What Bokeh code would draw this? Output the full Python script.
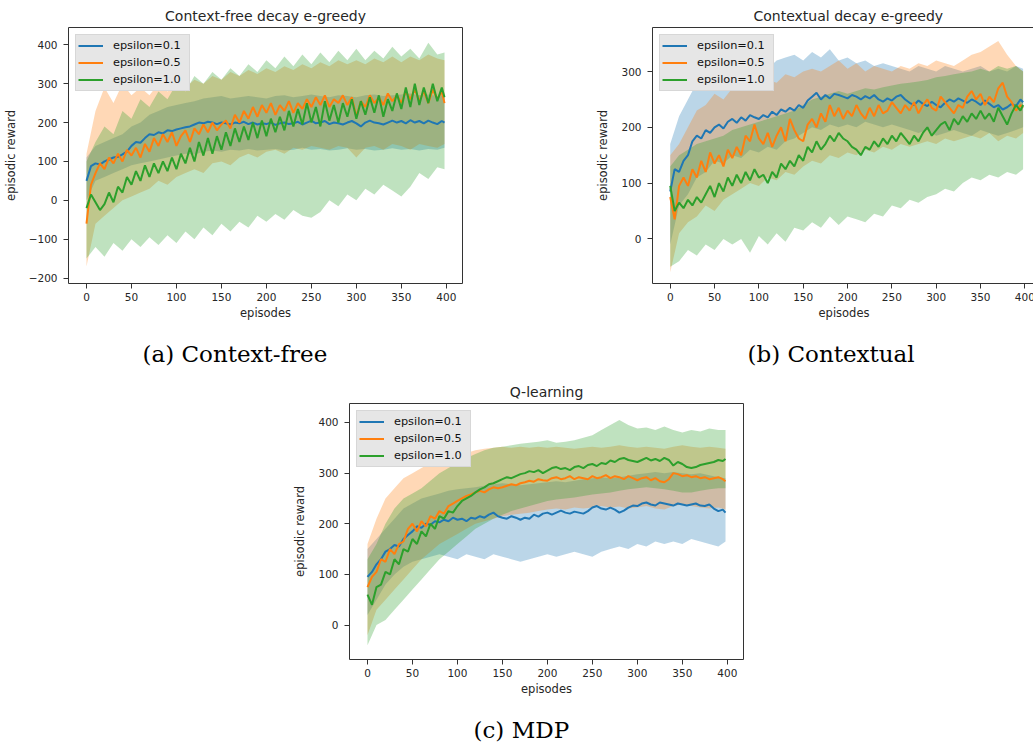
from bokeh.plotting import figure
from bokeh.models import Range1d, FixedTicker, Legend, LegendItem, Title, Spacer
from bokeh.layouts import row, column
from bokeh.embed import file_html
from bokeh.resources import INLINE

# ---------------- data ----------------
EPISODES = list(range(0, 400, 5)) + [398]
BAND_EPISODES = list(range(0, 400, 10)) + [398]
LABELS = ["epsilon=0.1", "epsilon=0.5", "epsilon=1.0"]
X_TICKS = [0, 50, 100, 150, 200, 250, 300, 350, 400]

# (a) Context-free decay e-greedy
A_BLUE = [50, 88, 95, 92, 100, 105, 110, 112, 118, 125,
          140, 150, 148, 160, 170, 168, 175, 172, 180, 178,
          182, 185, 188, 190, 195, 200, 198, 202, 200, 196,
          200, 198, 195, 200, 198, 202, 196, 200, 195, 198,
          196, 200, 194, 198, 200, 196, 198, 202, 195, 200,
          205, 198, 200, 204, 196, 200, 198, 195, 200, 204,
          198, 190, 200, 205, 200, 198, 195, 200, 205, 200,
          204, 198, 206, 200, 204, 198, 205, 200, 196, 204,
          200]
A_ORANGE = [-60, 40, 70, 95, 80, 110, 95, 120, 100, 130,
            115, 135, 110, 145, 125, 160, 140, 170, 150, 175,
            140, 165, 180, 150, 185, 170, 195, 175, 200, 180,
            195, 205, 185, 220, 200, 230, 210, 240, 215, 245,
            225, 250, 220, 245, 230, 255, 225, 250, 235, 260,
            240, 265, 245, 270, 240, 260, 250, 270, 245, 265,
            215, 255, 240, 270, 250, 265, 245, 275, 255, 270,
            250, 280, 260, 285, 255, 280, 250, 285, 260, 280,
            250]
A_GREEN = [-20, 15, -5, -25, -10, 20, -5, 35, 20, 60,
           40, 75, 50, 90, 60, 95, 70, 100, 75, 110,
           80, 120, 95, 135, 100, 150, 115, 160, 120, 165,
           130, 175, 140, 185, 150, 190, 155, 200, 160, 205,
           165, 210, 175, 215, 180, 230, 190, 235, 195, 250,
           200, 240, 190, 255, 205, 245, 200, 250, 215, 260,
           210, 255, 220, 265, 225, 270, 215, 260, 230, 275,
           235, 290, 240, 300, 245, 290, 250, 300, 255, 290,
           265]
A_BLUE_LO = [0, 50, 60, 70, 80, 90, 95, 100, 105, 110,
             115, 120, 118, 125, 128, 125, 130, 128, 132, 128,
             130, 132, 128, 130, 135, 130, 132, 128, 130, 134,
             130, 132, 128, 130, 134, 130, 132, 128, 132, 130,
             135]
A_BLUE_HI = [110, 140, 150, 160, 170, 190, 200, 220, 230, 240,
             245, 250, 255, 262, 265, 268, 262, 265, 268, 265,
             262, 268, 270, 265, 268, 272, 268, 265, 270, 268,
             265, 270, 272, 268, 270, 272, 275, 270, 272, 268,
             270]
A_ORANGE_LO = [-170, -60, -40, -20, 0, 10, 20, 30, 50, 40,
               60, 70, 80, 70, 95, 100, 90, 110, 120, 110,
               125, 130, 120, 135, 130, 140, 135, 130, 140, 135,
               110, 135, 140, 130, 145, 140, 130, 145, 140, 135,
               145]
A_ORANGE_HI = [120, 230, 290, 250, 300, 270, 290, 270, 300, 280,
               300, 290, 310, 300, 320, 310, 330, 320, 335, 325,
               340, 330, 345, 335, 350, 340, 355, 345, 360, 350,
               360, 350, 365, 355, 370, 355, 370, 360, 375, 365,
               360]
A_GREEN_LO = [-150, -120, -145, -110, -130, -100, -120, -95, -115, -90,
              -110, -80, -100, -70, -90, -60, -80, -55, -70, -40,
              -55, -35, -50, -25, -40, -45, -30, 0, -15, 15,
              0, 30, 15, 40, 25, 10, 35, 70, 55, 85,
              80]
A_GREEN_HI = [100, 150, 190, 170, 230, 210, 260, 240, 280, 260,
              300, 280, 320, 300, 330, 310, 340, 320, 350, 330,
              360, 340, 370, 345, 375, 350, 380, 355, 385, 360,
              390, 360, 385, 365, 395, 370, 390, 365, 405, 375,
              380]

# (b) Contextual decay e-greedy
B_BLUE = [85, 125, 120, 140, 150, 175, 185, 180, 195, 190,
          200, 205, 198, 210, 215, 208, 218, 212, 222, 218,
          215, 222, 218, 228, 222, 232, 228, 235, 230, 240,
          235, 248, 255, 262, 250, 258, 252, 260, 258, 255,
          252, 258, 255, 250, 256, 252, 258, 250, 246, 252,
          248, 255, 258, 250, 244, 240, 248, 242, 238, 246,
          240, 236, 244, 250, 246, 252, 248, 244, 250, 246,
          240, 248, 242, 236, 240, 232, 236, 242, 238, 250,
          245]
B_ORANGE = [75, 35, 95, 110, 95, 125, 110, 140, 120, 155,
            135, 150, 130, 160, 145, 165, 150, 185, 175, 205,
            180, 170, 190, 165, 185, 200, 175, 215, 195, 180,
            175, 205, 215, 200, 225, 210, 240, 220, 235, 215,
            230, 220, 240, 225, 215, 235, 220, 240, 225, 230,
            245, 235, 225, 240, 230, 245, 225, 240, 250, 235,
            230, 255, 245, 235, 225, 240, 235, 255, 265, 250,
            260, 240, 255, 245, 270, 280, 255, 245, 230, 240,
            235]
B_GREEN = [95, 50, 65, 55, 70, 60, 75, 65, 80, 95,
           75, 100, 85, 110, 95, 115, 100, 120, 105, 125,
           110, 115, 100, 120, 110, 135, 125, 140, 130, 150,
           140, 165, 155, 175, 160, 170, 185, 175, 190, 180,
           175, 165, 160, 150, 165, 160, 175, 165, 180, 170,
           185, 175, 190, 180, 170, 185, 175, 190, 200, 185,
           195, 205, 210, 195, 215, 205, 220, 210, 225, 215,
           230, 215, 225, 210, 235, 220, 205, 225, 240, 230,
           240]
B_BLUE_LO = [-10, 60, 80, 110, 120, 140, 135, 150, 145, 160,
             155, 165, 160, 175, 180, 190, 200, 195, 205, 200,
             205, 200, 210, 205, 200, 205, 200, 195, 190, 195,
             185, 190, 195, 190, 185, 195, 190, 185, 190, 195,
             200]
B_BLUE_HI = [170, 220, 250, 280, 290, 300, 310, 305, 320, 310,
             315, 305, 320, 325, 330, 320, 335, 325, 340, 320,
             325, 315, 320, 310, 315, 310, 305, 300, 310, 305,
             300, 310, 305, 300, 305, 310, 300, 305, 300, 310,
             305]
B_ORANGE_LO = [-60, 10, 30, 40, 60, 50, 70, 80, 90, 100,
               95, 110, 105, 120, 115, 130, 140, 135, 150, 145,
               155, 150, 160, 155, 165, 160, 170, 165, 170, 175,
               170, 180, 175, 180, 185, 180, 190, 175, 185, 180,
               190]
B_ORANGE_HI = [150, 170, 200, 230, 240, 260, 250, 270, 280, 290,
               270, 285, 280, 295, 290, 300, 305, 300, 310, 320,
               305, 315, 300, 310, 305, 300, 310, 305, 315, 310,
               320, 315, 310, 320, 330, 335, 345, 355, 330, 310,
               300]
B_GREEN_LO = [-50, -40, -20, -30, -10, -20, 0, -10, 0, -25,
              5, -10, 10, -5, 20, 15, 30, 20, 40, 25,
              40, 35, 30, 45, 40, 60, 55, 70, 65, 75,
              80, 90, 85, 100, 110, 105, 115, 110, 120, 115,
              125]
B_GREEN_HI = [130, 150, 160, 170, 175, 180, 185, 195, 200, 205,
              210, 215, 220, 225, 230, 240, 250, 255, 260, 265,
              260, 265, 270, 268, 272, 275, 278, 280, 282, 285,
              290, 292, 295, 298, 300, 305, 300, 310, 305, 310,
              300]

# (c) Q-learning
C_BLUE = [95, 105, 120, 130, 145, 150, 158, 155, 170, 178,
          185, 195, 192, 200, 198, 205, 203, 208, 205, 212,
          208, 210, 205, 212, 210, 215, 212, 218, 222, 215,
          212, 210, 215, 212, 208, 212, 210, 218, 214, 220,
          222, 218, 222, 226, 222, 220, 224, 222, 220, 225,
          232, 235, 230, 228, 232, 228, 222, 226, 232, 236,
          235, 240, 242, 238, 236, 242, 240, 238, 236, 240,
          238, 236, 238, 240, 236, 235, 238, 230, 225, 228,
          222]
C_ORANGE = [75, 95, 105, 130, 125, 150, 140, 160, 165, 190,
            200, 185, 205, 195, 215, 210, 225, 220, 235, 240,
            245, 250, 255, 258, 262, 265, 262, 268, 272, 270,
            272, 275, 278, 276, 280, 282, 285, 283, 288, 286,
            285, 290, 292, 288, 290, 294, 288, 292, 290, 288,
            294, 290, 292, 296, 290, 294, 292, 288, 294, 290,
            286, 290, 292, 286, 290, 284, 282, 288, 300, 298,
            294, 296, 292, 294, 290, 292, 288, 290, 292, 288,
            284]
C_GREEN = [60, 40, 75, 80, 105, 100, 130, 120, 150, 145,
           170, 160, 185, 175, 200, 190, 215, 210, 225, 222,
           235, 245, 250, 255, 262, 268, 272, 278, 280, 284,
           288, 292, 290, 294, 298, 300, 304, 302, 306, 300,
           305, 310, 312, 308, 310, 306, 312, 314, 310, 316,
           318, 314, 320, 318, 325, 322, 328, 330, 326, 324,
           322, 326, 330, 325, 328, 324, 330, 326, 315, 322,
           318, 312, 310, 312, 316, 318, 320, 322, 326, 324,
           328]
C_BLUE_LO = [20, 50, 80, 100, 115, 125, 130, 135, 140, 135,
             130, 140, 135, 130, 140, 135, 130, 125, 130, 135,
             140, 135, 140, 145, 140, 135, 145, 150, 155, 150,
             160, 155, 165, 160, 165, 160, 170, 165, 160, 155,
             165]
C_BLUE_HI = [150, 170, 190, 210, 230, 240, 250, 255, 260, 265,
             268, 270, 272, 275, 278, 280, 278, 276, 278, 280,
             282, 284, 282, 285, 288, 290, 292, 290, 292, 295,
             298, 300, 302, 300, 302, 300, 298, 300, 296, 292,
             290]
C_ORANGE_LO = [-20, 30, 50, 70, 90, 110, 130, 145, 160, 170,
               180, 190, 200, 205, 210, 215, 218, 220, 222, 225,
               228, 230, 228, 232, 230, 232, 235, 232, 234, 230,
               232, 235, 230, 228, 235, 238, 235, 232, 230, 232,
               228]
C_ORANGE_HI = [160, 210, 250, 270, 290, 300, 310, 320, 325, 330,
               335, 340, 345, 348, 350, 352, 350, 352, 350, 352,
               350, 352, 350, 348, 350, 352, 350, 352, 355, 352,
               350, 352, 350, 348, 352, 355, 352, 350, 352, 350,
               348]
C_GREEN_LO = [-40, 0, 10, 30, 50, 70, 90, 110, 130, 145,
              160, 175, 190, 200, 210, 218, 225, 230, 235, 240,
              245, 248, 250, 252, 255, 258, 260, 262, 265, 268,
              270, 272, 270, 268, 265, 262, 262, 265, 268, 270,
              270]
C_GREEN_HI = [130, 160, 200, 230, 250, 260, 270, 285, 300, 310,
              320, 330, 338, 345, 350, 352, 355, 358, 360, 362,
              365, 360, 362, 365, 370, 375, 385, 395, 405, 395,
              388, 390, 385, 392, 385, 380, 385, 382, 388, 385,
              385]

COLORS = ["#1f77b4", "#ff7f0e", "#2ca02c"]
FONT = "DejaVu Sans"
TEXT = "#262626"


def make_legend(items, margin, shadow):
    lg = Legend(items=items, location="top_left")
    lg.margin = margin
    lg.padding = 2
    lg.spacing = 0
    lg.label_height = 17
    lg.glyph_height = 17
    lg.glyph_width = 25
    lg.label_standoff = 10
    lg.label_width = 74
    lg.label_text_font = FONT
    lg.label_text_font_size = "11.3px"
    if shadow:
        lg.background_fill_color = "#7f7f7f"
        lg.background_fill_alpha = 0.5
        lg.border_line_color = None
        lg.label_text_alpha = 0
    else:
        lg.background_fill_color = "#e6e6e6"
        lg.background_fill_alpha = 1.0
        lg.border_line_color = "#c8c8c8"
        lg.label_text_color = "#111111"
    return lg


def panel(title, caption, means, bands, x_end, y_range, y_ticks,
          border_left, border_right, border_top, border_bottom, frame_w,
          title_align, title_offset, cap_offset, cap_gap):
    p = figure(frame_width=frame_w, frame_height=256,
               x_range=Range1d(-20, x_end), y_range=Range1d(*y_range),
               output_backend="svg", toolbar_location=None,
               min_border_left=border_left, min_border_right=border_right,
               min_border_top=border_top, min_border_bottom=border_bottom,
               background_fill_color="white", border_fill_color="white")
    p.title.text = title
    p.title.align = title_align
    p.title.offset = title_offset
    p.title.text_font = FONT
    p.title.text_font_size = "14px"
    p.title.text_font_style = "normal"
    p.title.text_color = TEXT
    p.title.standoff = 8

    for (lo, hi), col in zip(bands, COLORS):
        assert len(lo) == len(BAND_EPISODES) and len(hi) == len(BAND_EPISODES)
        p.varea(x=BAND_EPISODES, y1=lo, y2=hi, fill_color=col, fill_alpha=0.3)
    lines = []
    for m, col in zip(means, COLORS):
        assert len(m) == len(EPISODES)
        lines.append(p.line(EPISODES, m, line_color=col, line_width=2))

    # drop shadow (offset by 2px) then the legend box itself
    p.add_layout(make_legend([LegendItem(label=l, renderers=[r]) for l, r in zip(LABELS, lines)], 9, True))
    p.add_layout(make_legend([LegendItem(label=l, renderers=[r]) for l, r in zip(LABELS, lines)], 7, False))

    p.xaxis.ticker = FixedTicker(ticks=X_TICKS)
    p.yaxis.ticker = FixedTicker(ticks=y_ticks)
    p.yaxis.major_label_overrides = {t: "\u2212" + str(abs(t)) for t in y_ticks if t < 0}
    p.xaxis.axis_label = "episodes"
    p.yaxis.axis_label = "episodic reward"
    for ax in (p.xaxis[0], p.yaxis[0]):
        ax.axis_line_color = None
        ax.major_tick_in = 0
        ax.major_tick_out = 5
        ax.major_tick_line_color = "#333333"
        ax.minor_tick_line_color = None
        ax.major_label_text_font = FONT
        ax.major_label_text_font_size = "10.5px"
        ax.major_label_text_color = TEXT
        ax.axis_label_text_font = FONT
        ax.axis_label_text_font_size = "11.5px"
        ax.axis_label_text_font_style = "normal"
        ax.axis_label_text_color = TEXT
    p.xaxis.major_label_standoff = 4
    p.xaxis.axis_label_standoff = 2
    p.yaxis.major_label_standoff = 6
    p.yaxis.axis_label_standoff = 8
    p.grid.visible = False
    p.outline_line_color = "#333333"
    p.outline_line_width = 1

    # white (invisible) spacer title, then the sub-figure caption underneath the axis
    p.add_layout(Title(text=".", text_color="white", text_font_size="2px",
                       standoff=cap_gap), "below")
    p.add_layout(Title(text=caption, align="left", offset=cap_offset,
                       text_font="DejaVu Serif", text_font_size="23px",
                       text_font_style="normal", text_color="black",
                       standoff=0), "below")
    return p


pa = panel("Context-free decay e-greedy", "(a) Context-free",
           [A_BLUE, A_ORANGE, A_GREEN],
           [(A_BLUE_LO, A_BLUE_HI), (A_ORANGE_LO, A_ORANGE_HI), (A_GREEN_LO, A_GREEN_HI)],
           418, (-214, 444.5), [-200, -100, 0, 100, 200, 300, 400],
           66, 20, 27, 92, 394, "center", 0, 74, 13)
pb = panel("Contextual decay e-greedy", "(b) Contextual",
           [B_BLUE, B_ORANGE, B_GREEN],
           [(B_BLUE_LO, B_BLUE_HI), (B_ORANGE_LO, B_ORANGE_HI), (B_GREEN_LO, B_GREEN_HI)],
           412, (-80, 379), [0, 100, 200, 300],
           60, 0, 27, 92, 383, "left", 101, 95, 13)
pc = panel("Q-learning", "(c) MDP",
           [C_BLUE, C_ORANGE, C_GREEN],
           [(C_BLUE_LO, C_BLUE_HI), (C_ORANGE_LO, C_ORANGE_HI), (C_GREEN_LO, C_GREEN_HI)],
           418, (-68, 437.5), [0, 100, 200, 300, 400],
           66, 20, 28, 86, 394, "center", 0, 124, 13)

layout = column(row(pa, Spacer(width=110, height=10), pb),
                row(Spacer(width=283, height=10), pc))

open("out.html", "w").write(file_html(layout, INLINE))
